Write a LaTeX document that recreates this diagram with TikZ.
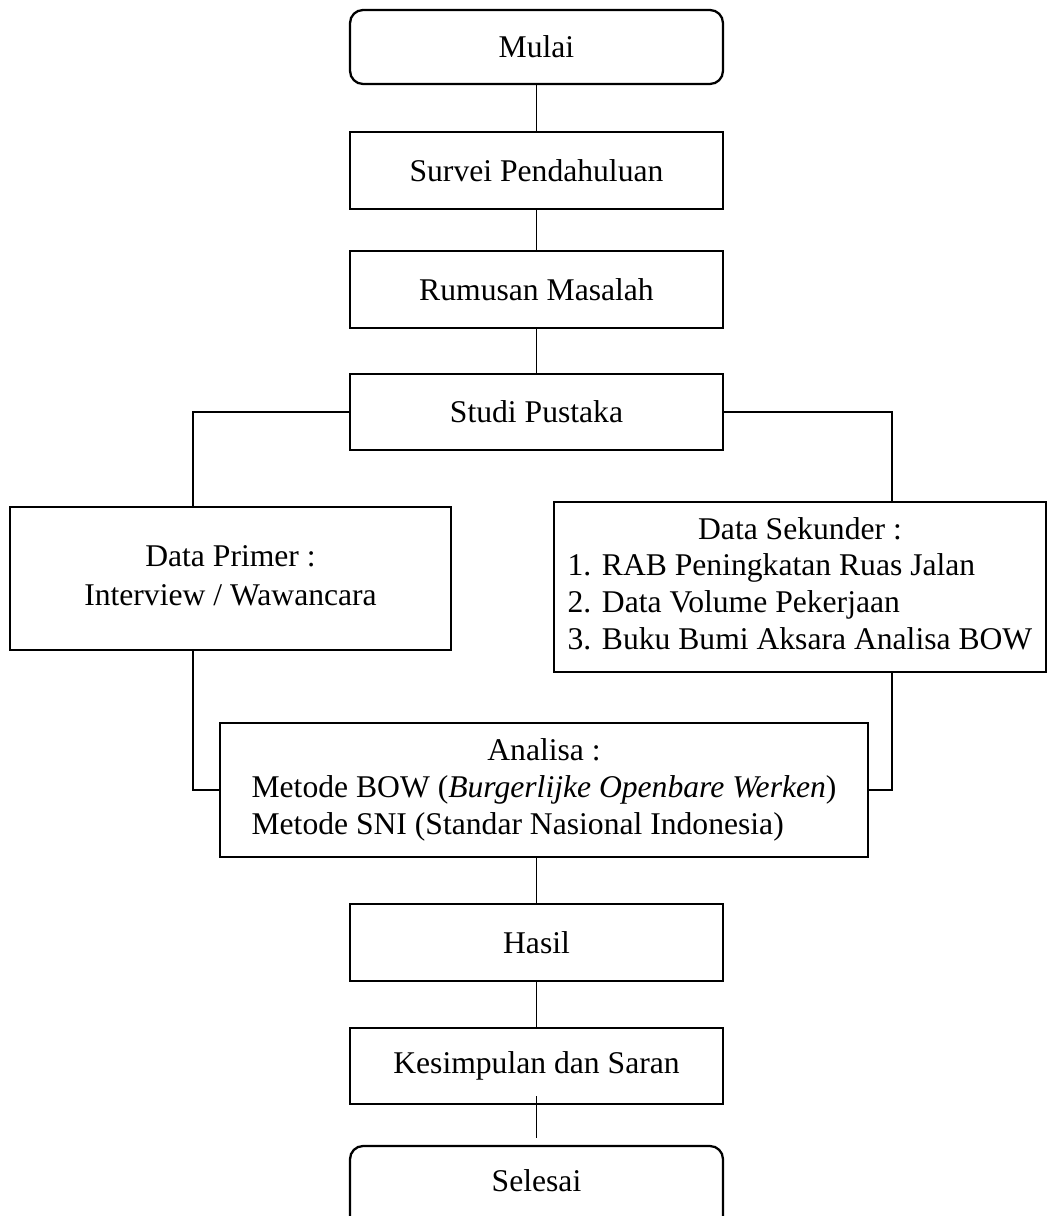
\documentclass[tikz,border=0pt]{standalone}
\usepackage{fontspec}
\setmainfont{Liberation Serif}
\begin{document}
\begin{tikzpicture}[x=0.02cm, y=-0.02cm,
  box/.style={draw, line width=1.3pt, inner sep=2pt, minimum width=7.46cm, font=\fontsize{18}{21}\selectfont},
  term/.style={box, rounded corners=0.26cm},
  link/.style={line width=1.1pt}]
\useasboundingbox (0,0) rectangle (1049,1216);
\node[term, minimum height=1.48cm] (mulai) at (536.5,47){Mulai};
\node[box, minimum height=1.54cm] (survei) at (536.5,170.5){Survei Pendahuluan};
\node[box, minimum height=1.54cm] (rumusan) at (536.5,289.5){Rumusan Masalah};
\node[box, minimum height=1.52cm] (studi) at (536.5,412){Studi Pustaka};
\node[box, minimum width=8.82cm, minimum height=2.86cm] (primer) at (230.5,578.5){\begin{tabular}{@{}c@{}}Data Primer :\\[1pt] Interview / Wawancara\end{tabular}};
\node[box, minimum width=9.84cm, minimum height=3.40cm] (sekunder) at (800,587){\begin{tabular}{@{}l@{}}\multicolumn{1}{@{}c@{}}{Data Sekunder :}\\ 1. RAB Peningkatan Ruas Jalan\\ 2. Data Volume Pekerjaan\\ 3. Buku Bumi Aksara Analisa BOW\end{tabular}};
\node[box, minimum width=12.96cm, minimum height=2.68cm] (analisa) at (544,790){\begin{tabular}{@{}l@{}}\multicolumn{1}{@{}c@{}}{Analisa :}\\ Metode BOW (\textit{Burgerlijke Openbare Werken})\\ Metode SNI (Standar Nasional Indonesia)\end{tabular}};
\node[box, minimum height=1.54cm] (hasil) at (536.5,942.5){Hasil};
\node[box, minimum height=1.52cm] (kesimpulan) at (536.5,1066){Kesimpulan dan Saran};
\node[term, minimum height=1.80cm] (selesai) at (536.5,1191){\raisebox{0.42cm}{Selesai}};
\coordinate (lx) at (193,0);
\coordinate (rx) at (892,0);
\draw[link](mulai) -- (survei);
\draw[link](survei) -- (rumusan);
\draw[link](rumusan) -- (studi);
\draw[link](studi.west) -| (lx |- primer.north);
\draw[link](studi.east) -| (rx |- sekunder.north);
\draw[link](lx |- primer.south) |- (analisa.west);
\draw[link](rx |- sekunder.south) |- (analisa.east);
\draw[link](hasil.north |- analisa.south) -- (hasil.north);
\draw[link](hasil) -- (kesimpulan);
\draw[link]([yshift=5pt]kesimpulan.south) -- ([yshift=4pt]selesai.north);
\end{tikzpicture}
\end{document}
